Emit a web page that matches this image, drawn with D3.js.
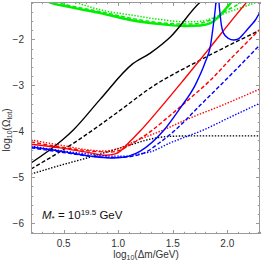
<!DOCTYPE html>
<html><head><meta charset="utf-8">
<script src="https://cdn.jsdelivr.net/npm/d3@7"></script>
<style>
html,body{margin:0;padding:0;background:#fff;}
svg{display:block;font-family:"Liberation Sans",Arial,sans-serif;}
</style></head><body>
<svg id="c" width="262" height="263"></svg>
<script>
// ---- data (log10 Δm/GeV , log10 Ω_tot) ----
const xTicks = [0.5, 1.0, 1.5, 2.0];
const xTickLabels = ["0.5", "1.0", "1.5", "2.0"];
const yTicks = [-2, -3, -4, -5, -6];
const yTickLabels = ["\u22122", "\u22123", "\u22124", "\u22125", "\u22126"];

const xBlackSolid = [0.2, 0.487, 0.588, 0.836, 1.129, 1.294, 1.478, 1.753, 1.80];
const yBlackSolid = [-4.69, -4.19, -3.97, -3.30, -2.54, -2.30, -1.95, -1.19, -1.10];
const xBlackDashed = [0.2, 0.634, 1.02, 1.294, 1.753, 2.3];
const yBlackDashed = [-4.82, -4.19, -3.54, -3.06, -2.45, -1.80];
const xBlackDotted = [0.2, 0.469, 0.744, 1.019, 1.12, 1.294, 1.478, 1.661, 2.3];
const yBlackDotted = [-4.93, -4.74, -4.56, -4.36, -4.29, -4.17, -4.11, -4.10, -4.10];

const xRedSolid = [0.2, 0.469, 0.744, 0.882, 0.973, 1.019, 1.111, 1.203, 1.386, 1.597, 1.845, 2.074, 2.193];
const yRedSolid = [-4.28, -4.36, -4.47, -4.52, -4.49, -4.43, -4.21, -3.99, -3.49, -2.89, -2.17, -1.49, -1.15];
const xRedDashed = [0.2, 0.469, 0.744, 0.928, 1.019, 1.12, 1.304, 1.478, 1.661, 1.845, 2.057, 2.3];
const yRedDashed = [-4.23, -4.34, -4.43, -4.45, -4.41, -4.28, -3.99, -3.65, -3.28, -2.89, -2.36, -1.78];
const xRedDotted = [0.2, 0.469, 0.744, 0.882, 1.019, 1.12, 1.395, 1.661, 1.937, 2.3];
const yRedDotted = [-4.19, -4.30, -4.41, -4.43, -4.36, -4.25, -3.99, -3.71, -3.45, -3.08];

const xBlueSolid = [0.2, 0.469, 0.744, 0.928, 1.065, 1.12, 1.203, 1.414, 1.57, 1.707, 1.799, 1.845, 1.872, 1.891, 1.905, 1.914, 1.928, 1.946, 1.964, 2.010, 2.057, 2.102, 2.157, 2.212, 2.258, 2.3];
const yBlueSolid = [-4.34, -4.43, -4.54, -4.58, -4.56, -4.52, -4.43, -3.99, -3.49, -2.99, -2.49, -2.15, -1.69, -1.32, -0.95, -0.95, -1.32, -1.69, -1.86, -1.98, -2.015, -1.99, -1.86, -1.71, -1.58, -1.41];
const xBlueDashed = [0.2, 0.469, 0.744, 0.928, 1.065, 1.239, 1.378, 1.515, 1.753, 2.029, 2.3];
const yBlueDashed = [-4.36, -4.45, -4.54, -4.57, -4.56, -4.47, -4.25, -3.99, -3.43, -2.78, -2.12];
const xBlueDotted = [0.2, 0.469, 0.744, 0.928, 1.065, 1.203, 1.304, 1.478, 1.643, 1.762, 2.029, 2.3];
const yBlueDotted = [-4.32, -4.42, -4.50, -4.54, -4.54, -4.49, -4.44, -4.25, -4.10, -3.99, -3.69, -3.39];

const xGreenSolid = [0.322, 0.35, 0.561, 0.836, 1.111, 1.386, 1.616, 1.753, 1.845, 1.918, 1.992, 2.047, 2.066];
const yGreenSolid = [-1.12, -1.17, -1.30, -1.43, -1.58, -1.67, -1.71, -1.70, -1.65, -1.52, -1.32, -1.17, -1.12];
const xGreenDashed = [0.304, 0.561, 0.836, 1.111, 1.386, 1.616, 1.753, 1.863, 1.983, 2.12, 2.175];
const yGreenDashed = [-1.12, -1.27, -1.40, -1.54, -1.64, -1.67, -1.65, -1.56, -1.39, -1.21, -1.12];
const xGreenDotted = [0.561, 0.836, 1.111, 1.386, 1.616, 1.753, 1.863, 1.983, 2.12, 2.3];
const yGreenDotted = [-1.15, -1.36, -1.47, -1.57, -1.62, -1.61, -1.54, -1.43, -1.32, -1.17];

// ---- layout ----
const W = 262, H = 263;
const m = {left: 31, right: 2, top: 2, bottom: 29};
const x = d3.scaleLinear().domain([0.2, 2.3]).range([m.left, W - m.right]);
const y = d3.scaleLinear().domain([-6.233, -1.189]).range([H - m.bottom, m.top]);

const svg = d3.select("#c");
svg.append("defs").append("clipPath").attr("id", "clip")
  .append("rect").attr("x", x(0.2)).attr("y", y(-1.189))
  .attr("width", x(2.3) - x(0.2)).attr("height", y(-6.233) - y(-1.189));

const frameCol = "#999";
// ticks (frame style, inward)
const gT = svg.append("g").attr("stroke", frameCol).attr("stroke-width", 1);
const xMinor = d3.range(2, 24).map(d => d / 10);
xMinor.forEach(v => {
  const major = xTicks.some(t => Math.abs(t - v) < 1e-6);
  const L = major ? 4 : 2.2;
  const px = Math.round(x(v)) + 0.5;
  gT.append("line").attr("x1", px).attr("x2", px).attr("y1", y.range()[0]).attr("y2", y.range()[0] - L);
  gT.append("line").attr("x1", px).attr("x2", px).attr("y1", y.range()[1]).attr("y2", y.range()[1] + L);
});
const yMinor = d3.range(-31, -5).map(d => d / 5);
yMinor.forEach(v => {
  if (v < -6.233 || v > -1.189) return;
  const major = yTicks.some(t => Math.abs(t - v) < 1e-6);
  const L = major ? 4 : 2.2;
  const py = Math.round(y(v)) + 0.5;
  gT.append("line").attr("y1", py).attr("y2", py).attr("x1", x.range()[0]).attr("x2", x.range()[0] + L);
  gT.append("line").attr("y1", py).attr("y2", py).attr("x1", x.range()[1]).attr("x2", x.range()[1] - L);
});

// curves
const line = d3.line().x(d => x(d[0])).y(d => y(d[1])).curve(d3.curveMonotoneX);
const gC = svg.append("g").attr("clip-path", "url(#clip)").attr("fill", "none");
function draw(xs, ys, col, style, w) {
  const p = gC.append("path").datum(xs.map((v, i) => [v, ys[i]]))
    .attr("d", line).attr("stroke", col).attr("stroke-width", w || 1.4);
  if (style === "dash") p.attr("stroke-dasharray", "4,2.2");
  if (style === "dot") p.attr("stroke-dasharray", "1.4,1.6");
}
const GREEN = "#00ee00", RED = "#ff0000", BLUE = "#0000ff", BLACK = "#000";
draw(xGreenSolid, yGreenSolid, GREEN, "solid", 2.4);
draw(xGreenDashed, yGreenDashed, GREEN, "dash", 1.5);
draw(xGreenDotted, yGreenDotted, GREEN, "dot", 1.5);
draw(xBlackSolid, yBlackSolid, BLACK, "solid");
draw(xBlackDashed, yBlackDashed, BLACK, "dash");
draw(xBlackDotted, yBlackDotted, BLACK, "dot");
draw(xRedSolid, yRedSolid, RED, "solid");
draw(xRedDashed, yRedDashed, RED, "dash");
draw(xRedDotted, yRedDotted, RED, "dot");
draw(xBlueSolid, yBlueSolid, BLUE, "solid");
draw(xBlueDashed, yBlueDashed, BLUE, "dash");
draw(xBlueDotted, yBlueDotted, BLUE, "dot");

// frame
svg.append("rect").attr("x", x(0.2) + 0.5).attr("y", y(-1.189) + 0.5)
  .attr("width", x(2.3) - x(0.2) - 1).attr("height", y(-6.233) - y(-1.189) - 1)
  .attr("fill", "none").attr("stroke", frameCol).attr("stroke-width", 1);

// tick labels
const tc = "#333";
xTicks.forEach((v, i) => {
  svg.append("text").attr("x", x(v)).attr("y", 247).attr("text-anchor", "middle")
    .attr("font-size", 10).attr("fill", tc).text(xTickLabels[i]);
});
yTicks.forEach((v, i) => {
  svg.append("text").attr("x", 24).attr("y", y(v) + 3.5).attr("text-anchor", "end")
    .attr("font-size", 10).attr("fill", tc).text(yTickLabels[i]);
});

// axis labels
const xl = svg.append("text").attr("x", 146).attr("y", 258).attr("text-anchor", "middle")
  .attr("font-size", 10).attr("fill", tc);
xl.append("tspan").text("log");
xl.append("tspan").attr("font-size", 7).attr("dy", 2).text("10");
xl.append("tspan").attr("dy", -2).text("(\u0394m/GeV)");

const yl = svg.append("text").attr("transform", "translate(10,130) rotate(-90)")
  .attr("text-anchor", "middle").attr("font-size", 10).attr("fill", tc);
yl.append("tspan").text("log");
yl.append("tspan").attr("font-size", 7).attr("dy", 2).text("10");
yl.append("tspan").attr("dy", -2).text("(\u03A9");
yl.append("tspan").attr("font-size", 7).attr("dy", 2).text("tot");
yl.append("tspan").attr("dy", -2).text(")");

// annotation
const an = svg.append("text").attr("x", 42).attr("y", 219).attr("font-size", 11.5).attr("fill", "#111");
an.append("tspan").attr("font-style", "italic").text("M");
an.append("tspan").attr("font-size", 8).attr("dy", 2).text("*");
an.append("tspan").attr("dy", -2).text(" = 10");
an.append("tspan").attr("font-size", 8).attr("dy", -4.5).text("19.5");
an.append("tspan").attr("dy", 4.5).text(" GeV");
</script>
</body></html>
